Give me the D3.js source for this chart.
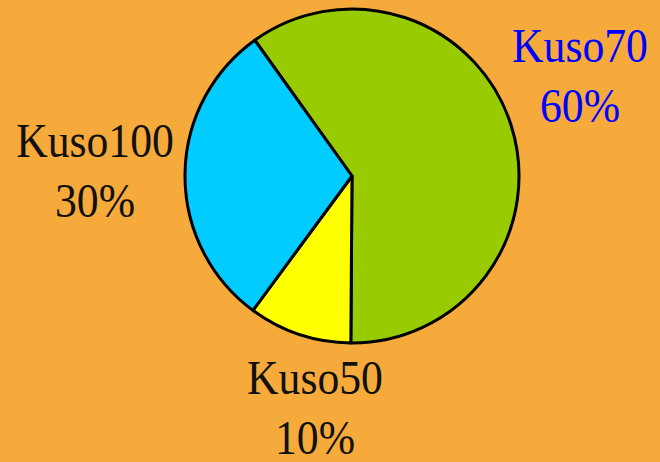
<!DOCTYPE html>
<html>
<head>
<meta charset="utf-8">
<script src="https://cdn.jsdelivr.net/npm/d3@7"></script>
<style>
  html, body { margin: 0; padding: 0; background: #F5AA3B; }
  svg { display: block; }
</style>
</head>
<body>
<div id="chart"></div>
<script>
// data
var categories = ["Kuso70", "Kuso50", "Kuso100"];
var values = [60, 10, 30];
var colors = ["#99CC00", "#FFFF00", "#00CCFF"];
var labelColors = ["#0000FF", "#111111", "#111111"];

var width = 660, height = 462;
var cx = 352, cy = 176, radius = 167;

// where each label block sits (centre x, first baseline y)
var labelPos = [[580, 62], [315, 394], [95, 157]];

var svg = d3.select("#chart").append("svg")
    .attr("width", width)
    .attr("height", height);

svg.append("rect")
    .attr("width", width)
    .attr("height", height)
    .attr("fill", "#F5AA3B");

var total = d3.sum(values);
var start = -35.6 * Math.PI / 180;

var pie = d3.pie()
    .sort(null)
    .value(function(d) { return d; })
    .startAngle(start)
    .endAngle(start + 2 * Math.PI);

var arc = d3.arc().innerRadius(0).outerRadius(radius);

var g = svg.append("g")
    .attr("transform", "translate(" + cx + "," + cy + ")");

g.selectAll("path")
    .data(pie(values))
    .enter()
    .append("path")
    .attr("d", arc)
    .attr("fill", function(d, i) { return colors[i]; })
    .attr("stroke", "#000")
    .attr("stroke-width", 3)
    .attr("stroke-linejoin", "round");

// labels, a bit narrower than the plain serif face
var labels = svg.selectAll("g.lbl")
    .data(categories)
    .enter()
    .append("g")
    .attr("class", "lbl")
    .attr("transform", function(d, i) {
        return "translate(" + labelPos[i][0] + "," + labelPos[i][1] + ") scale(0.91,1)";
    })
    .append("text")
    .attr("text-anchor", "middle")
    .attr("font-family", "'Liberation Serif', 'Times New Roman', serif")
    .attr("font-size", 48)
    .attr("fill", function(d, i) { return labelColors[i]; });

labels.append("tspan")
    .attr("x", 0)
    .attr("y", 0)
    .text(function(d) { return d; });

labels.append("tspan")
    .attr("x", 0)
    .attr("y", 60)
    .text(function(d, i) { return Math.round(values[i] / total * 100) + "%"; });
</script>
</body>
</html>
